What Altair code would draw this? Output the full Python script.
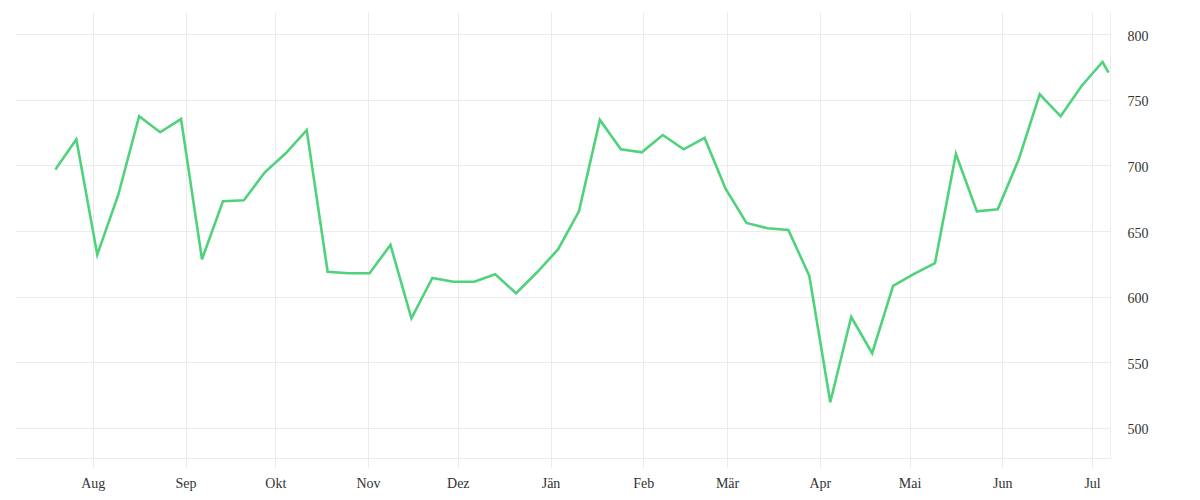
import altair as alt
import pandas as pd

dates = [
    "2022-07-19", "2022-07-26", "2022-08-02", "2022-08-09", "2022-08-16", "2022-08-23",
    "2022-08-30", "2022-09-06", "2022-09-13", "2022-09-20", "2022-09-27", "2022-10-04",
    "2022-10-11", "2022-10-18", "2022-10-25", "2022-11-01", "2022-11-08", "2022-11-15",
    "2022-11-22", "2022-11-29", "2022-12-06", "2022-12-13", "2022-12-20", "2022-12-27",
    "2023-01-03", "2023-01-10", "2023-01-17", "2023-01-24", "2023-01-31", "2023-02-07",
    "2023-02-14", "2023-02-21", "2023-02-28", "2023-03-07", "2023-03-14", "2023-03-21",
    "2023-03-28", "2023-04-04", "2023-04-11", "2023-04-18", "2023-04-25", "2023-05-02",
    "2023-05-09", "2023-05-16", "2023-05-23", "2023-05-30", "2023-06-06", "2023-06-13",
    "2023-06-20", "2023-06-27", "2023-07-04", "2023-07-06",
]
values = [
    697, 720, 632, 677.5, 737.5, 725.3, 735.4, 628.5, 672.7, 673.5, 694.8, 709.3,
    727, 619, 617.8, 617.8, 639.4, 583.5, 614.3, 611.4, 611.4, 617, 602.6, 618.6,
    636, 665, 734.7, 712.3, 710, 723.2, 712.3, 721, 682.3, 656.2, 652.1, 650.8,
    615.8, 519.5, 584.5, 556.9, 608.2, 617.3, 625.5, 708.8, 665, 666.6, 704.7, 754.3,
    737.5, 760.6, 778.9, 770.7,
]
y_ticks = [500, 550, 600, 650, 700, 750, 800]
x_domain = ["2022-07-06", "2023-07-07"]

df = pd.DataFrame({"date": pd.to_datetime(dates) + pd.Timedelta(hours=12), "value": values})

month_expr = (
    "['Jän','Feb','Mär','Apr','Mai','Jun','Jul','Aug','Sep','Okt','Nov','Dez']"
    "[month(datum.value)]"
)

grid_color = "#ebebeb"
font = "Liberation Serif"

chart = (
    alt.Chart(df)
    .mark_line(color="#4fd27b", strokeWidth=2.6)
    .encode(
        x=alt.X(
            "date:T",
            scale=alt.Scale(domain=x_domain),
            axis=alt.Axis(
                title=None,
                tickCount={"interval": "month", "step": 1},
                labelExpr=month_expr,
                grid=True,
                gridColor=grid_color,
                domainColor=grid_color,
                tickColor=grid_color,
                tickSize=10,
                labelPadding=8,
                labelFont=font,
                labelFontSize=14,
                labelColor="#333333",
                labelFlush=False,
            ),
        ),
        y=alt.Y(
            "value:Q",
            scale=alt.Scale(domain=[477, 817], nice=False, zero=False),
            axis=alt.Axis(
                title=None,
                orient="right",
                values=y_ticks,
                grid=True,
                gridColor=grid_color,
                domainColor=grid_color,
                ticks=False,
                labelPadding=17,
                labelOffset=2,
                labelFont=font,
                labelFontSize=14,
                labelColor="#333333",
            ),
        ),
    )
    .properties(
        width=1095,
        height=446,
        padding={"left": 7, "top": 4, "right": 5, "bottom": 5},
    )
    .configure_view(stroke=None)
)

chart.save("out.html", embed_options={"renderer": "svg", "actions": False})
